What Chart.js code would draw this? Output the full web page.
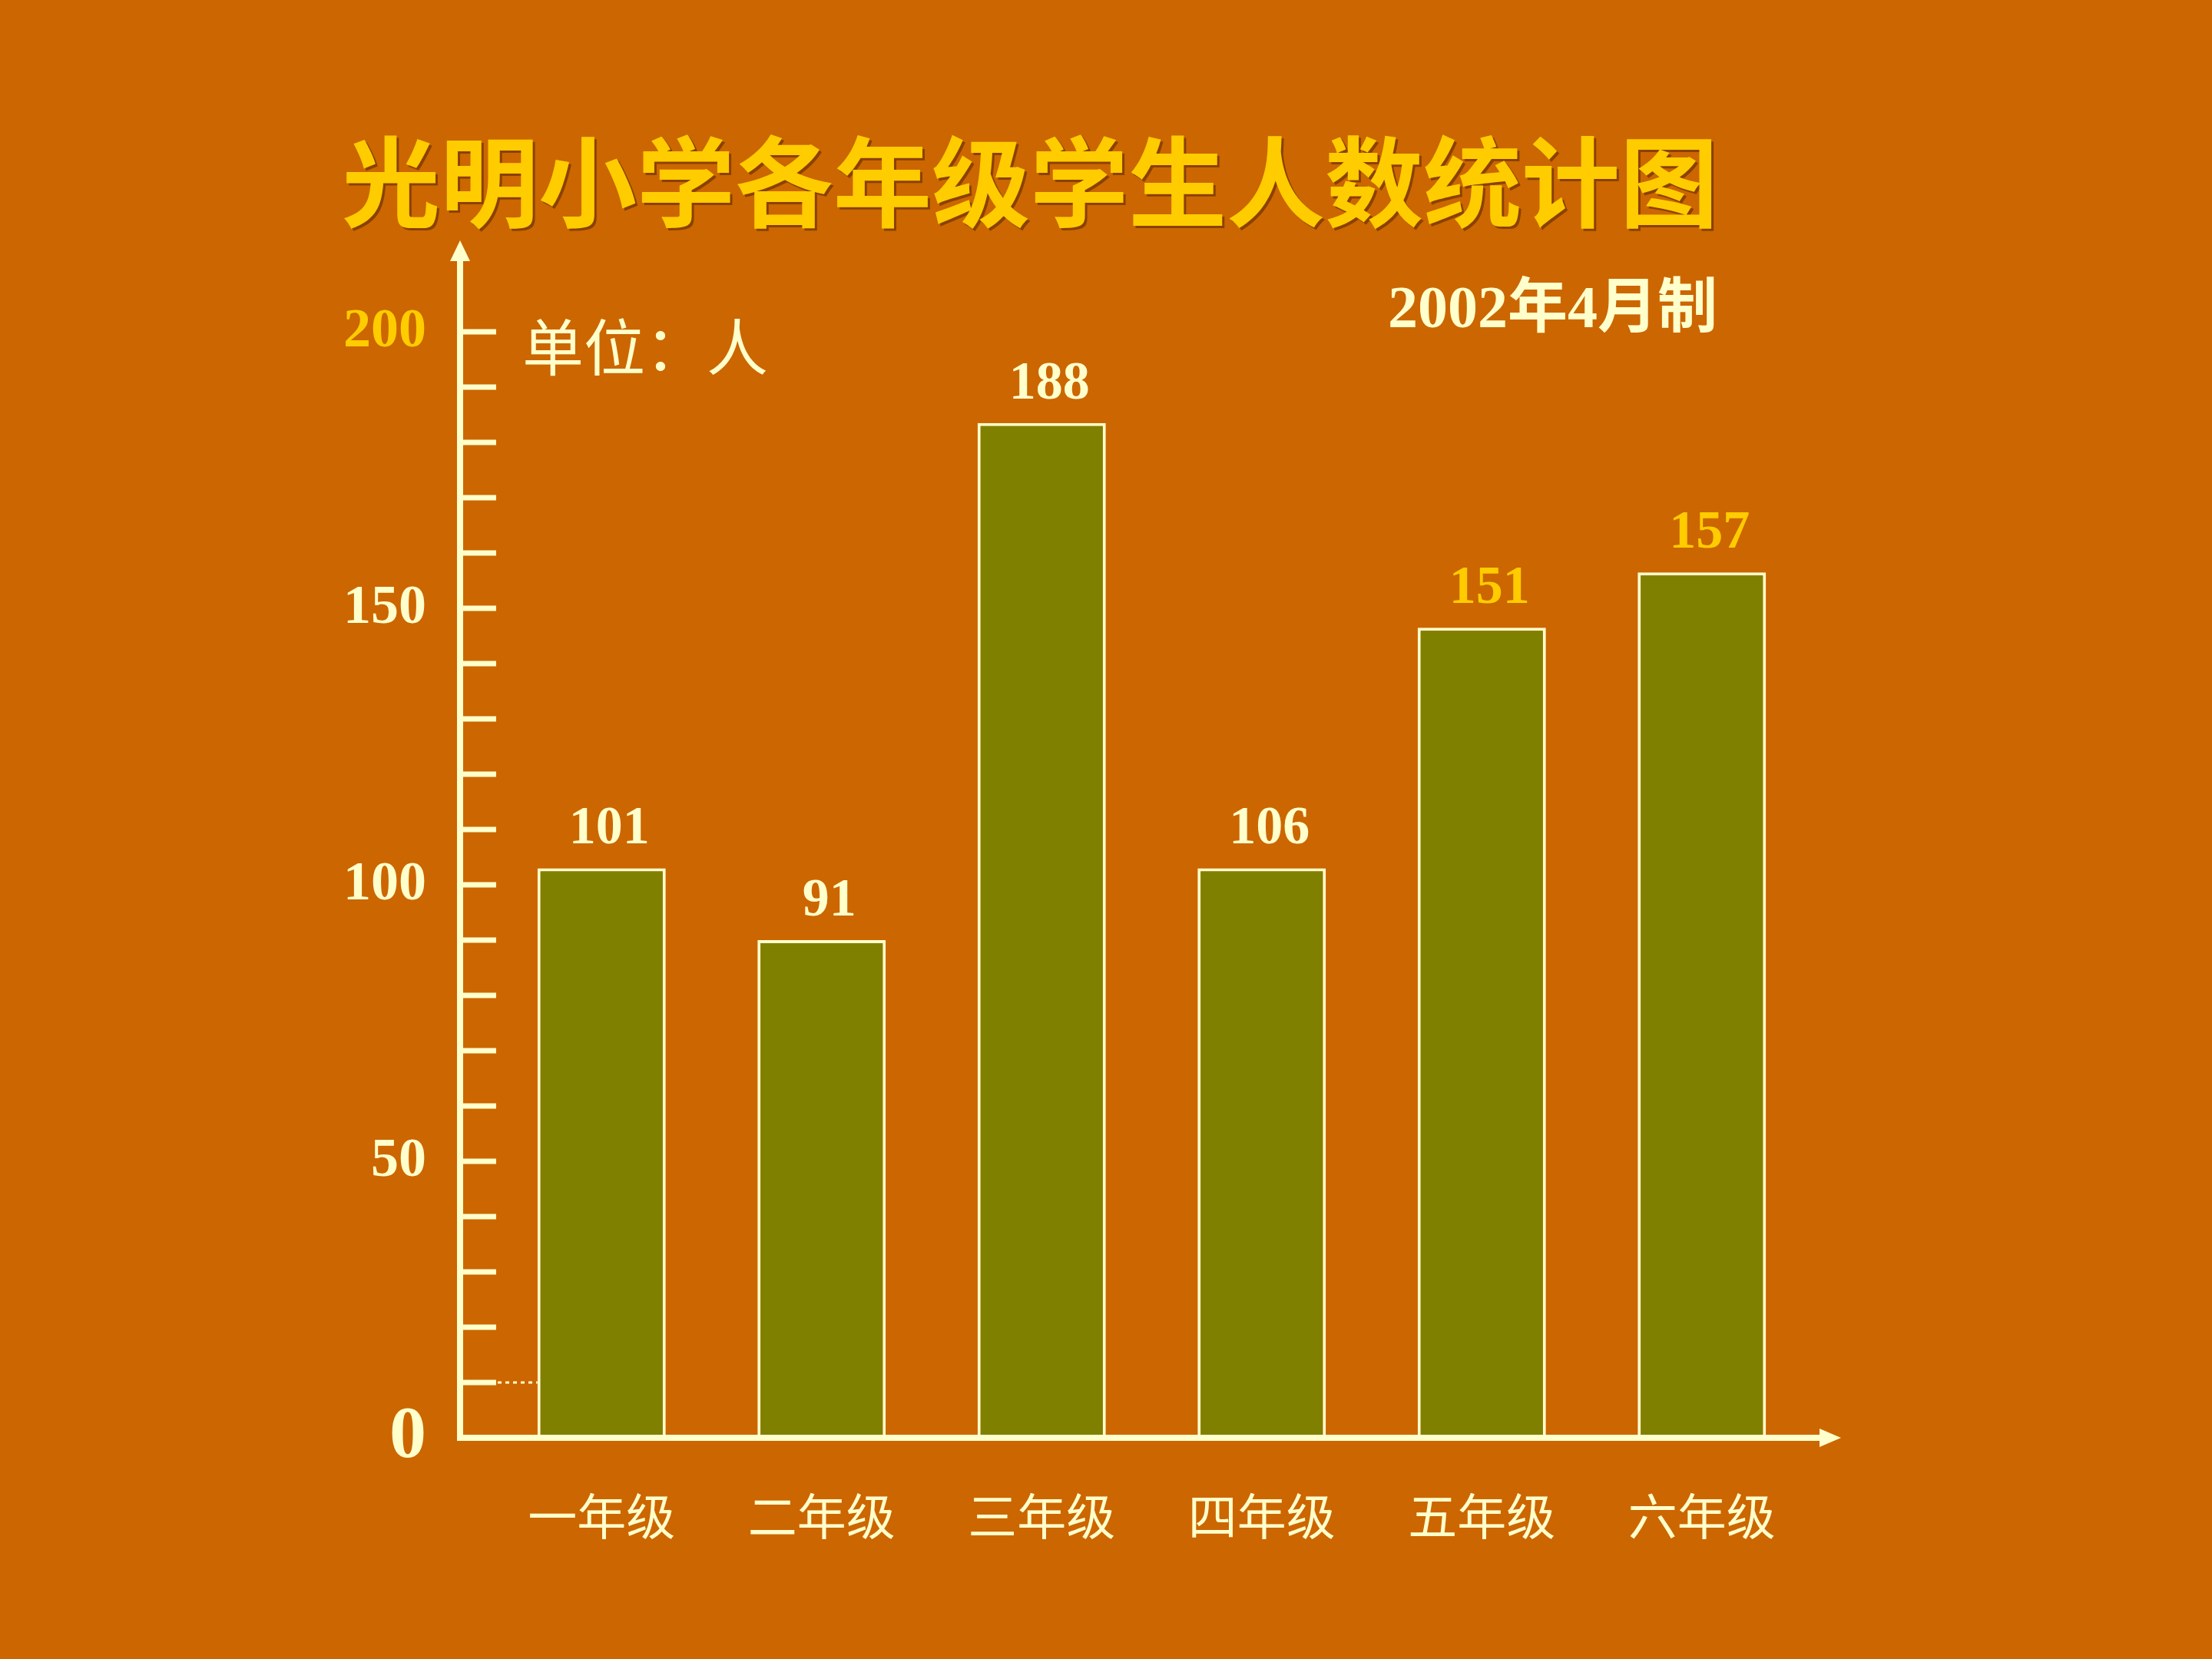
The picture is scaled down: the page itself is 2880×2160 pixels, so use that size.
<!DOCTYPE html>
<html lang="zh">
<head>
<meta charset="utf-8">
<title>光明小学各年级学生人数统计图</title>
<script src="https://cdn.jsdelivr.net/npm/chart.js@4.4.1/dist/chart.umd.min.js"></script>
<style>
  html, body { margin: 0; padding: 0; background: #cc6600; }
  #wrap { width: 2880px; height: 2160px; }
</style>
</head>
<body>
<div id="wrap"><canvas id="gradeChart" width="2880" height="2160"></canvas></div>
<script>
// ----- data -----
const grades = ["一年级", "二年级", "三年级", "四年级", "五年级", "六年级"];
const studentCounts = [101, 91, 188, 106, 151, 157]; // numbers printed above the bars
const barHeights = [103, 90, 183.5, 103, 146.5, 156.5]; // heights the bars are actually drawn at
const yLabelValues = [0, 50, 100, 150, 200];

const titleText = "光明小学各年级学生人数统计图";
const unitText = "单位：人";
const dateText = "2002年4月制";

// ----- colours / fonts -----
const barColor = "#808000";
const creamColor = "#ffffcc";
const yellowColor = "#ffcc00";
const cjkFont = '"Noto Sans CJK SC", "Noto Sans", sans-serif';
const numFont = '"Liberation Serif", "DejaVu Serif", "Noto Sans CJK SC", serif';
const countColors = [creamColor, creamColor, creamColor, creamColor, yellowColor, yellowColor];

// draws the axis arrows, inner tick marks, value labels and the texts
const decorations = {
  id: "decorations",
  afterDraw(chart) {
    const { ctx, chartArea } = chart;
    const yScale = chart.scales.y;
    const axisX = chartArea.left - 41;
    const axisY = yScale.getPixelForValue(0);

    ctx.save();
    ctx.fillStyle = creamColor;
    ctx.strokeStyle = creamColor;

    // y axis + arrow
    ctx.lineWidth = 8;
    ctx.beginPath();
    ctx.moveTo(axisX, axisY + 4);
    ctx.lineTo(axisX, chartArea.top - 92);
    ctx.stroke();
    ctx.beginPath();
    ctx.moveTo(axisX, chartArea.top - 119);
    ctx.lineTo(axisX - 13, chartArea.top - 92);
    ctx.lineTo(axisX + 13, chartArea.top - 92);
    ctx.closePath();
    ctx.fill();

    // x axis + arrow
    ctx.beginPath();
    ctx.moveTo(axisX - 4, axisY);
    ctx.lineTo(chartArea.right + 14, axisY);
    ctx.stroke();
    ctx.beginPath();
    ctx.moveTo(chartArea.right + 38, axisY);
    ctx.lineTo(chartArea.right + 10, axisY - 12);
    ctx.lineTo(chartArea.right + 10, axisY + 12);
    ctx.closePath();
    ctx.fill();

    // inward tick marks every 10
    for (let v = 10; v <= 200; v += 10) {
      const py = yScale.getPixelForValue(v);
      ctx.fillRect(axisX, py - 3.5, 47, 7);
    }

    // dotted guide from the first tick to the first bar
    const bars = chart.getDatasetMeta(0).data;
    const first = bars[0];
    ctx.lineWidth = 3;
    ctx.setLineDash([5, 5]);
    ctx.beginPath();
    const gy = yScale.getPixelForValue(10);
    ctx.moveTo(axisX + 49, gy);
    ctx.lineTo(first.x - first.width / 2, gy);
    ctx.stroke();
    ctx.setLineDash([]);

    // value labels
    ctx.textAlign = "center";
    ctx.textBaseline = "middle";
    ctx.font = "bold 70px " + numFont;
    bars.forEach((bar, i) => {
      ctx.fillStyle = countColors[i];
      ctx.fillText(String(studentCounts[i]), bar.x + 10, bar.y - 50);
    });

    // title
    ctx.save();
    ctx.shadowColor = "rgba(110, 50, 0, 0.7)";
    ctx.shadowOffsetX = 3;
    ctx.shadowOffsetY = 3;
    ctx.fillStyle = yellowColor;
    ctx.font = "bold 128px " + cjkFont;
    ctx.textAlign = "center";
    ctx.fillText(titleText, 1341, 237);
    ctx.restore();

    // unit + date
    ctx.fillStyle = creamColor;
    ctx.textAlign = "left";
    ctx.font = "80px " + cjkFont;
    ctx.fillText(unitText, 680, 452);
    ctx.font = "bold 78px " + numFont;
    ctx.fillText(dateText, 1807, 406);

    ctx.restore();
  },
};

new Chart(document.getElementById("gradeChart"), {
  type: "bar",
  data: {
    labels: grades,
    datasets: [
      {
        label: "学生人数",
        data: barHeights,
        backgroundColor: barColor,
        borderColor: creamColor,
        borderWidth: 4,
        borderSkipped: false,
        barPercentage: 0.583,
        categoryPercentage: 1,
      },
    ],
  },
  options: {
    responsive: false,
    animation: false,
    devicePixelRatio: 1,
    layout: { padding: { left: 0, top: 432, right: 521, bottom: 0 } },
    plugins: {
      legend: { display: false },
      tooltip: { enabled: false },
      title: { display: false },
    },
    scales: {
      x: {
        grid: { display: false, drawTicks: false },
        border: { display: false },
        ticks: {
          color: creamColor,
          font: { family: cjkFont, size: 64 },
          padding: 63,
          maxRotation: 0,
          autoSkip: false,
        },
        afterFit: (scale) => {
          scale.height = 288;
        },
      },
      y: {
        min: 0,
        max: 200,
        grid: { display: false, drawTicks: false },
        border: { display: false },
        ticks: {
          stepSize: 10,
          autoSkip: false,
          padding: 85,
          callback: (v) => (yLabelValues.includes(v) ? String(v) : ""),
          color: (c) => (c.tick && c.tick.value === 200 ? yellowColor : creamColor),
          font: (c) => ({
            family: numFont,
            weight: "bold",
            size: c.tick && c.tick.value === 0 ? 96 : 72,
          }),
        },
        afterFit: (scale) => {
          scale.width = 640;
        },
      },
    },
  },
  plugins: [decorations],
});
</script>
</body>
</html>
